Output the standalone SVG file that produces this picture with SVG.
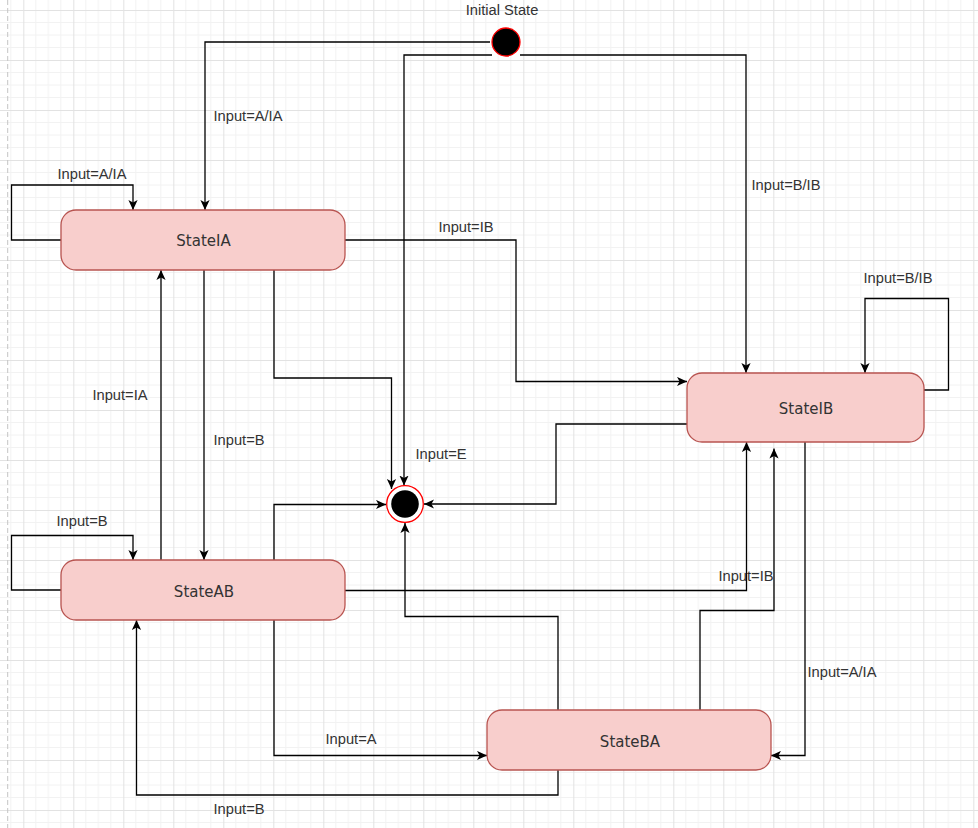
<svg xmlns="http://www.w3.org/2000/svg" width="978" height="828" viewBox="0 0 978 828">
<defs>
<pattern id="grid" x="23.3" y="10" width="50" height="50" patternUnits="userSpaceOnUse">
<path d="M12.5,0 V50 M25,0 V50 M37.5,0 V50 M0,12.5 H50 M0,25 H50 M0,37.5 H50" fill="none" stroke="#f2f2f2" stroke-width="1"/>
<path d="M0.5,0 V50 M0,0.5 H50" fill="none" stroke="#e2e2e2" stroke-width="1"/>
</pattern>
<marker id="arr" markerUnits="userSpaceOnUse" viewBox="0 0 10 10" refX="10" refY="5" markerWidth="10" markerHeight="10" orient="auto">
<path d="M0,0.4 L10,5 L0,9.6 L2.6,5 z" fill="#000"/>
</marker>
<style>
.edge{fill:none;stroke:#000;stroke-width:1.3;marker-end:url(#arr)}
.state{fill:#f8cecc;stroke:#b85450;stroke-width:1.3}
.stxt{font-family:"DejaVu Sans",sans-serif;font-size:15px;fill:#333;text-anchor:middle}
.lbl{font-family:"Liberation Sans",Arial,sans-serif;font-size:14.7px;fill:#333;text-anchor:middle}
</style>
</defs>
<rect x="0" y="0" width="978" height="828" fill="#fff"/>
<rect x="0" y="0" width="978" height="828" fill="url(#grid)"/>
<line x1="7.7" y1="0" x2="7.7" y2="828" stroke="#c4c4c4" stroke-width="1" stroke-dasharray="5,3"/>

<g id="connectors">
<path class="edge" d="M490,42 H205 V210"/>
<path class="edge" d="M492,55 H404 V485.5"/>
<path class="edge" d="M520,55 H746 V373"/>
<path class="edge" d="M61,240 H11.5 V185 H133 V210"/>
<path class="edge" d="M345,240 H516 V381.5 H687"/>
<path class="edge" d="M274,270 V378 H391.5 V489"/>
<path class="edge" d="M204,270 V560"/>
<path class="edge" d="M161,560 V270"/>
<path class="edge" d="M61,590 H11.5 V535.5 H133 V560"/>
<path class="edge" d="M274,560 V504.5 H386"/>
<path class="edge" d="M687,424 H556 V504 H424"/>
<path class="edge" d="M345,590.5 H746.5 V442"/>
<path class="edge" d="M700,710 V610.5 H774 V448.5"/>
<path class="edge" d="M924,390 H948.5 V298.5 H865 V373"/>
<path class="edge" d="M805,442 V755.5 H771"/>
<path class="edge" d="M274,620 V755.5 H487"/>
<path class="edge" d="M558,770 V795 H136.5 V620"/>
<path class="edge" d="M558,710 V616.5 H405 V523"/>
<text class="lbl" x="248" y="121">Input=A/IA</text>
<text class="lbl" x="92" y="179">Input=A/IA</text>
<text class="lbl" x="466" y="232">Input=IB</text>
<text class="lbl" x="786" y="190">Input=B/IB</text>
<text class="lbl" x="898" y="282.5">Input=B/IB</text>
<text class="lbl" x="120" y="400">Input=IA</text>
<text class="lbl" x="239" y="445">Input=B</text>
<text class="lbl" x="441" y="459">Input=E</text>
<text class="lbl" x="82" y="526">Input=B</text>
<text class="lbl" x="746" y="581">Input=IB</text>
<text class="lbl" x="842" y="677">Input=A/IA</text>
<text class="lbl" x="351" y="744">Input=A</text>
<text class="lbl" x="239" y="814">Input=B</text>
</g>

<g id="initial">
<circle cx="506" cy="42" r="14" fill="#000" stroke="#ff0000" stroke-width="1.3"/>
<text class="lbl" x="502" y="15">Initial State</text>
</g>
<g id="end">
<circle cx="405" cy="504" r="18.3" fill="#fff" stroke="#ff0000" stroke-width="1.3"/>
<circle cx="405" cy="504" r="13.8" fill="#000"/>
</g>
<g id="stateIA">
<rect class="state" x="61" y="210" width="284" height="60" rx="15" ry="15"/>
<text class="stxt" x="203.5" y="246">StateIA</text>
</g>
<g id="stateAB">
<rect class="state" x="61" y="560" width="284" height="60" rx="15" ry="15"/>
<text class="stxt" x="204" y="596.5">StateAB</text>
</g>
<g id="stateIB">
<rect class="state" x="687" y="373" width="237" height="69" rx="15" ry="15"/>
<text class="stxt" x="806" y="414">StateIB</text>
</g>
<g id="stateBA">
<rect class="state" x="487" y="710" width="284" height="60" rx="15" ry="15"/>
<text class="stxt" x="630" y="746.5">StateBA</text>
</g>
</svg>
